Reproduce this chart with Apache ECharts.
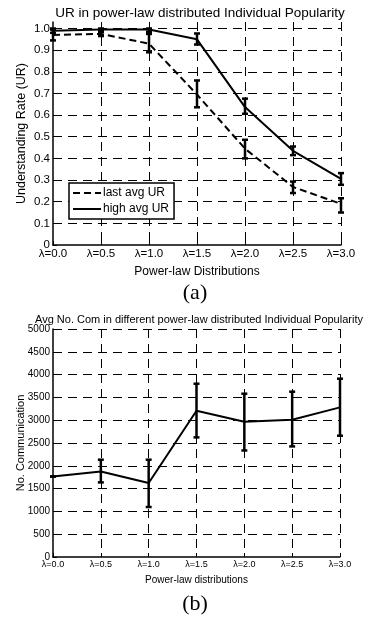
<!DOCTYPE html>
<html>
<head>
<meta charset="utf-8">
<script src="https://cdn.jsdelivr.net/npm/echarts@6/dist/echarts.min.js"></script>
<style>html,body{margin:0;padding:0;background:#fff}#c{width:368px;height:623px}</style>
</head>
<body>
<div id="c"></div>
<script>
var lambdas = [0.0, 0.5, 1.0, 1.5, 2.0, 2.5, 3.0];
// (a) Understanding rate
var lastAvgUR     = [0.970, 0.975, 0.930, 0.695, 0.445, 0.268, 0.190];
var lastAvgURLow  = [0.945, 0.965, 0.890, 0.636, 0.400, 0.240, 0.150];
var lastAvgURHigh = [0.995, 0.990, 0.975, 0.760, 0.486, 0.293, 0.216];
var highAvgUR     = [0.990, 0.995, 0.995, 0.950, 0.637, 0.435, 0.305];
var highAvgURLow  = [0.980, 0.985, 0.985, 0.926, 0.606, 0.415, 0.278];
var highAvgURHigh = [1.000, 1.000, 1.000, 0.977, 0.676, 0.455, 0.332];
// (b) Average number of communications
var avgCom     = [1765, 1877, 1623, 3208, 2967, 3011, 3281];
var avgComLow  = [1765, 1636, 1096, 2623, 2336, 2425, 2660];
var avgComHigh = [1765, 2134, 2134, 3800, 3581, 3625, 3910];

var chart = echarts.init(document.getElementById('c'), null, {renderer: 'canvas'});
var FONT = 'Liberation Sans, Arial, sans-serif';
var SERIF = 'Liberation Serif, Times New Roman, serif';

function pairs(ys) { return lambdas.map(function (x, i) { return [x, ys[i]]; }); }
function errData(lo, hi) { return lambdas.map(function (x, i) { return [x, lo[i], hi[i]]; }); }
function errorBar(lineW) {
  return function (params, api) {
    var x = api.value(0);
    var p1 = api.coord([x, api.value(1)]);
    var p2 = api.coord([x, api.value(2)]);
    var h = 3;
    var st = {stroke: '#000', lineWidth: lineW};
    return {type: 'group', children: [
      {type: 'line', shape: {x1: p1[0], y1: p1[1], x2: p2[0], y2: p2[1]}, style: st},
      {type: 'line', shape: {x1: p1[0] - h, y1: p1[1], x2: p1[0] + h, y2: p1[1]}, style: st},
      {type: 'line', shape: {x1: p2[0] - h, y1: p2[1], x2: p2[0] + h, y2: p2[1]}, style: st}
    ]};
  };
}
var gridDash = {color: '#000', width: 1, type: [9, 6]};

function xAxisCfg(gi, fs, nfs, name, nameGap) {
  return {
    type: 'value', gridIndex: gi, min: 0, max: 3, interval: 0.5,
    name: name, nameLocation: 'middle', nameGap: nameGap, nameMoveOverlap: false,
    nameTextStyle: {color: '#000', fontSize: nfs, fontFamily: FONT},
    axisLine: {show: true, onZero: false, lineStyle: {color: '#000', width: 1.5}},
    axisTick: {show: true, inside: true, length: 4, lineStyle: {color: '#000'}},
    axisLabel: {color: '#000', fontSize: fs, fontFamily: FONT, margin: 3,
      formatter: function (v) { return 'λ=' + v.toFixed(1); }},
    splitLine: {show: true, lineStyle: gridDash, showMinLine: false}
  };
}

var option = {
  animation: false,
  backgroundColor: '#fff',
  title: [
    {text: 'UR in power-law distributed Individual Popularity', left: 195, top: 1, textAlign: 'center',
     textStyle: {color: '#000', fontSize: 13.5, fontWeight: 'normal', fontFamily: FONT}},
    {text: '(a)', left: 190, top: 277, textAlign: 'center',
     textStyle: {color: '#000', fontSize: 22, fontWeight: 'normal', fontFamily: SERIF}},
    {text: 'Avg No. Com in different power-law distributed Individual Popularity', left: 194, top: 309, textAlign: 'center',
     textStyle: {color: '#000', fontSize: 11, fontWeight: 'normal', fontFamily: FONT}},
    {text: '(b)', left: 190, top: 588, textAlign: 'center',
     textStyle: {color: '#000', fontSize: 22, fontWeight: 'normal', fontFamily: SERIF}}
  ],
  legend: {
    data: ['last avg UR', 'high avg UR'],
    orient: 'vertical', left: 69, top: 183,
    borderColor: '#000', borderWidth: 1.5, borderRadius: 0,
    padding: [4, 5, 4, 3], itemGap: 4, itemWidth: 28, itemHeight: 12,
    itemStyle: {opacity: 0},
    textStyle: {color: '#000', fontSize: 12, fontFamily: FONT, padding: [0, 0, 0, -3]},
    backgroundColor: '#fff'
  },
  grid: [
    {left: 53, right: 27, top: 22, height: 223, containLabel: false},
    {left: 53, right: 28, top: 329, height: 228, containLabel: false}
  ],
  xAxis: [
    xAxisCfg(0, 11.5, 12, 'Power-law Distributions', 21),
    xAxisCfg(1, 9, 10, 'Power-law distributions', 18)
  ],
  yAxis: [
    {type: 'value', gridIndex: 0, min: 0, max: 1.03, interval: 0.1,
     name: 'Understanding Rate (UR)', nameLocation: 'middle', nameGap: 25, nameMoveOverlap: false,
     nameTextStyle: {color: '#000', fontSize: 12.5, fontFamily: FONT},
     axisLine: {show: true, lineStyle: {color: '#000', width: 1.5}},
     axisTick: {show: true, inside: true, length: 4, lineStyle: {color: '#000'}},
     axisLabel: {color: '#000', fontSize: 11.5, fontFamily: FONT, margin: 3, showMaxLabel: false,
       formatter: function (v) { return v === 0 ? '0' : v.toFixed(1); }},
     splitLine: {show: true, lineStyle: gridDash, showMinLine: false, showMaxLine: false}},
    {type: 'value', gridIndex: 1, min: 0, max: 5000, interval: 500,
     name: 'No. Communication', nameLocation: 'middle', nameGap: 27, nameMoveOverlap: false,
     nameTextStyle: {color: '#000', fontSize: 11, fontFamily: FONT},
     axisLine: {show: true, lineStyle: {color: '#000', width: 1.5}},
     axisTick: {show: true, inside: true, length: 4, lineStyle: {color: '#000'}},
     axisLabel: {color: '#000', fontSize: 10, fontFamily: FONT, margin: 3,
       formatter: function (v) { return String(v); }},
     splitLine: {show: true, lineStyle: gridDash, showMinLine: false}}
  ],
  series: [
    {name: 'last avg UR', type: 'line', xAxisIndex: 0, yAxisIndex: 0, data: pairs(lastAvgUR),
     symbol: 'none', lineStyle: {color: '#000', width: 2, type: [7, 4]}, itemStyle: {color: '#000'}, z: 3},
    {name: 'high avg UR', type: 'line', xAxisIndex: 0, yAxisIndex: 0, data: pairs(highAvgUR),
     symbol: 'none', lineStyle: {color: '#000', width: 2, type: 'solid'}, itemStyle: {color: '#000'}, z: 3},
    {type: 'custom', xAxisIndex: 0, yAxisIndex: 0, data: errData(lastAvgURLow, lastAvgURHigh),
     renderItem: errorBar(2.5), z: 4, encode: {x: 0, y: [1, 2]}},
    {type: 'custom', xAxisIndex: 0, yAxisIndex: 0, data: errData(highAvgURLow, highAvgURHigh),
     renderItem: errorBar(2.5), z: 4, encode: {x: 0, y: [1, 2]}},
    {name: 'avg com', type: 'line', xAxisIndex: 1, yAxisIndex: 1, data: pairs(avgCom),
     symbol: 'none', lineStyle: {color: '#000', width: 2}, itemStyle: {color: '#000'}, z: 3},
    {type: 'custom', xAxisIndex: 1, yAxisIndex: 1, data: errData(avgComLow, avgComHigh),
     renderItem: errorBar(2.5), z: 4, encode: {x: 0, y: [1, 2]}}
  ]
};
chart.setOption(option);
</script>
</body>
</html>
